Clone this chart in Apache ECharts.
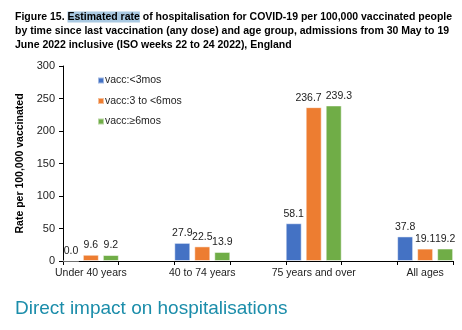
<!DOCTYPE html>
<html>
<head>
<meta charset="utf-8">
<script src="https://cdn.jsdelivr.net/npm/echarts@6/dist/echarts.min.js"></script>
<style>html,body{margin:0;padding:0;background:#fff;}#c{width:462px;height:330px;}</style>
</head>
<body>
<div id="c"></div>
<script>
var categories = ['Under 40 years', '40 to 74 years', '75 years and over', 'All ages'];
var seriesNames = ['vacc:<3mos', 'vacc:3 to <6mos', 'vacc:\u22656mos'];
var vaccLt3 = [0.0, 27.9, 58.1, 37.8];
var vacc3to6 = [9.6, 22.5, 236.7, 19.1];
var vaccGe6 = [9.2, 13.9, 239.3, 19.2];
var yTicks = [0, 50, 100, 150, 200, 250, 300];
var colors = ['#4472C4', '#ED7D31', '#70AD47'];

// build axis with empty slots between groups
var axisCats = [];
categories.forEach(function (c, i) { axisCats.push(c); if (i < categories.length - 1) axisCats.push(''); });
function spread(arr) {
  var out = [];
  arr.forEach(function (v, i) { out.push(v); if (i < arr.length - 1) out.push('-'); });
  return out;
}
var allSeries = [vaccLt3, vacc3to6, vaccGe6];
var spreadData = allSeries.map(spread);
var FF = 'Liberation Sans, Arial, sans-serif';
var GRID_TOP = 66, GRID_BOTTOM = 69, BAR_W = 16, BAR_STEP = 20;

var chart = echarts.init(document.getElementById('c'), null, {renderer: 'canvas'});

// push apart labels of adjacent bars that would collide (as the original chart did)
function labelLayoutFor(s) {
  return function (params) {
    var d = params.dataIndex;
    var v = spreadData[s][d];
    if (v === '-') return {};
    var pxPer = (chart.getHeight() - GRID_TOP - GRID_BOTTOM) / (yTicks[yTicks.length - 1] - yTicks[0]);
    var dx = 0;
    [s - 1, s + 1].forEach(function (n) {
      if (n < 0 || n >= spreadData.length) return;
      var vn = spreadData[n][d];
      if (vn === '-') return;
      if (Math.abs(v - vn) * pxPer < params.labelRect.height) {
        var overlap = params.labelRect.width - BAR_STEP;
        if (overlap > 2) dx += (n > s ? -1 : 1) * (overlap / 2 + 2);
      }
    });
    return {dx: dx};
  };
}

chart.setOption({
  animation: false,
  textStyle: {fontFamily: FF},
  title: {
    left: 15, top: 10, padding: 0,
    text: '{b|Figure 15. }{hl|Estimated rate}{b| of hospitalisation for COVID-19 per 100,000 vaccinated people}\n{b|by time since last vaccination (any dose) and age group, admissions from 30 May to 19}\n{b|June 2022 inclusive (ISO weeks 22 to 24 2022), England}',
    textStyle: {
      rich: {
        b: {fontSize: 10.5, fontWeight: 'bold', color: '#000', lineHeight: 14, fontFamily: FF},
        hl: {fontSize: 10.5, fontWeight: 'bold', color: '#000', lineHeight: 14, backgroundColor: '#A9C9E2', fontFamily: FF}
      }
    }
  },
  legend: {
    orient: 'vertical', left: 92, top: 70,
    icon: 'rect', itemWidth: 6, itemHeight: 6, itemGap: 9.5,
    textStyle: {fontSize: 10.5, color: '#222', padding: [0, 0, 0, -4]},
    data: seriesNames
  },
  grid: {left: 63, right: 9, top: GRID_TOP, bottom: GRID_BOTTOM},
  xAxis: {
    type: 'category', data: axisCats,
    axisLine: {lineStyle: {color: '#000', width: 1}},
    axisTick: {show: true, interval: 0, length: 4, lineStyle: {color: '#000'}},
    axisLabel: {interval: 0, fontSize: 10.5, color: '#222', margin: 7}
  },
  yAxis: {
    type: 'value', min: yTicks[0], max: yTicks[yTicks.length - 1], interval: 50,
    name: 'Rate per 100,000 vaccinated', nameLocation: 'middle', nameGap: 34, nameRotate: 90,
    nameTextStyle: {fontSize: 10.5, fontWeight: 'bold', color: '#000'},
    axisLine: {show: true, lineStyle: {color: '#000'}},
    axisTick: {show: true, length: 4, lineStyle: {color: '#000'}},
    axisLabel: {fontSize: 11, color: '#222', margin: 8},
    splitLine: {show: false}
  },
  series: spreadData.map(function (arr, i) {
    return {
      name: seriesNames[i], type: 'bar', data: arr,
      barWidth: BAR_W, barGap: '25%', barCategoryGap: 0,
      itemStyle: {color: colors[i], borderColor: 'rgba(255,255,255,0.5)', borderWidth: 1},
      label: {show: true, position: 'top', distance: 4, fontSize: 10.5, color: '#222',
        formatter: function (p) { return Number(p.value).toFixed(1); }},
      labelLayout: labelLayoutFor(i)
    };
  }),
  graphic: [{
    type: 'text', left: 15, top: 299,
    style: {text: 'Direct impact on hospitalisations', fontSize: 19, fill: '#1B8DAA', fontFamily: FF}
  }]
});
</script>
</body>
</html>
